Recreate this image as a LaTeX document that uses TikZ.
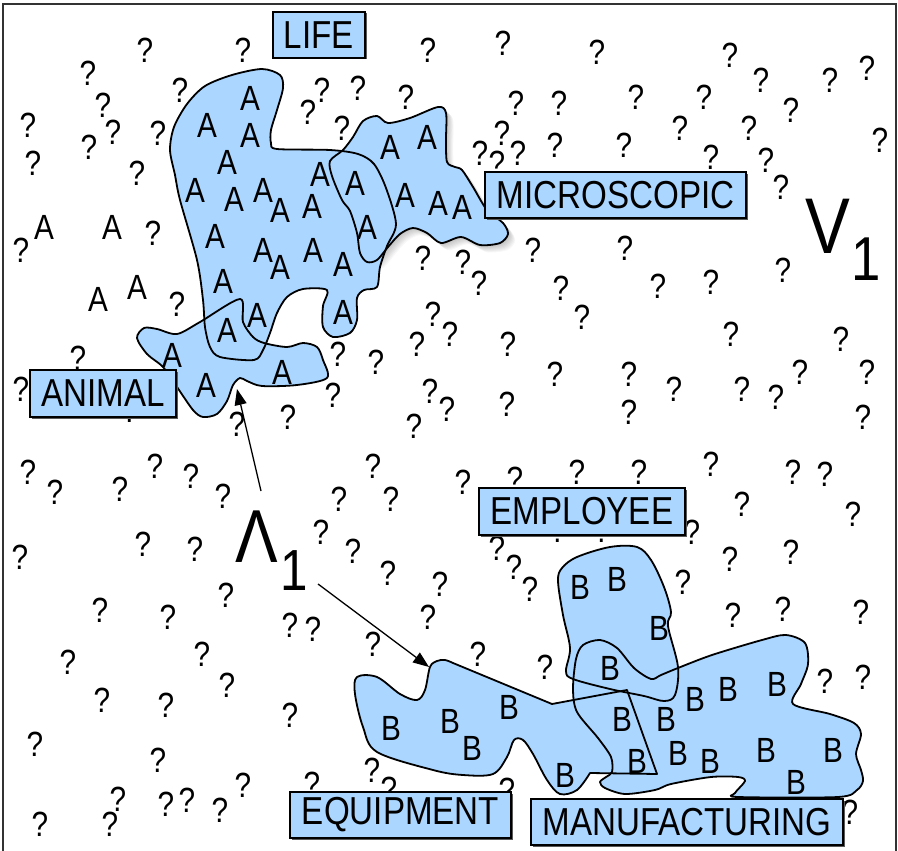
\documentclass[tikz,border=0pt]{standalone}
\usepackage{fontspec}
\setmainfont[FakeStretch=0.85]{Liberation Sans}
\usetikzlibrary{arrows.meta,shadows}
\definecolor{blobblue}{RGB}{170,214,255}
\begin{document}
\begin{tikzpicture}[x=1pt,y=-1pt,
  qm/.style={inner sep=0pt,font=\fontsize{35}{35}\selectfont},
  ltr/.style={inner sep=0pt,font=\fontsize{35}{35}\selectfont},
  blobline/.style={draw=black,line width=1.8pt,line join=round},
  lbl/.style={draw=black,line width=1.3pt,fill=blobblue,inner sep=0pt,
    font=\fontsize{39}{39}\selectfont,
    drop shadow={shadow xshift=1.5pt,shadow yshift=-1.5pt,fill=black!65,opacity=1}},
  arr/.style={line width=1.3pt,-{Triangle[length=16pt,width=12pt]}}
]
\useasboundingbox (0,0) rectangle (898,851);
\fill[white] (0,0) rectangle (898,851);

% question marks
\foreach \x/\y [count=\i] in {145/50, 243/50, 88/73, 180/90, 103/105, 28/125, 113/132, 158/133, 89/147, 33/163, 137/173, 153/233, 21/250,
428/50, 503/43, 597/52, 322/90, 358/88, 406/97, 308/112, 342/128, 516/103, 559/103, 502/133, 480/153, 518/153, 555/145, 497/163, 423/258, 463/262, 479/283, 533/250, 561/288,
730/55, 761/80, 830/80, 867/68, 636/97, 704/97, 791/110, 680/128, 749/128, 880/140, 624/145, 711/157, 766/160, 781/187, 685/207, 733/207, 625/248, 783/270, 658/286, 711/282, 731/334, 841/339, 629/374, 674/389, 742/389, 776/397, 800/372, 867/372, 629/412, 863/417,
177/304, 78/358, 21/389, 130/410, 237/424, 288/417, 28/472, 55/492, 120/489, 155/466, 191/476, 223/496, 20/557, 143/544, 195/549,
433/314, 582/317, 450/334, 417/344, 338/354, 376/362, 508/344, 555/374, 333/395, 430/391, 447/409, 507/404, 414/426, 373/466, 463/482, 515/479, 577/472, 339/499, 391/499, 321/532, 353/551, 497/548, 514/567, 530/589, 558/530, 602/530, 388/573, 440/584,
711/464, 639/472, 793/472, 825/474, 742/504, 853/514, 692/532, 730/559, 791/552,
100/610, 168/617, 226/595, 290/625, 313/629, 68/662, 202/654, 227/685, 102/700, 166/705, 290/715, 35/744, 158/760, 118/799, 110/824, 40/824, 166/804, 187/800, 220/810, 243/785,
428/617, 373/644, 478/654, 545/667, 312/784, 372/770, 389/789, 507/790,
683/582, 733/615, 783/609, 861/612, 825/681, 863/677, 850/812}
  \node[qm] (q\i) at (\x,\y) {?};

% blob paths
\def\pLife{plot[smooth cycle,tension=0.5] coordinates {(232,75) (262,69) (280,75) (283,88) (277,110) (271,130) (271,143) (277,149) (330,150) (358,154) (374,164) (386,188) (396,224) (387,246) (380,267) (377,287) (364,290) (357,298) (357,320) (350,333) (333,337) (323,327) (323,306) (327,290) (303,289) (287,297) (277,313) (270,333) (263,350) (254,360) (220,357) (210,347) (205,327) (203,300) (197,260) (180,200) (175,175) (170,150) (174,127) (187,104) (205,86)}}
\def\pMicro{plot[smooth cycle,tension=0.5] coordinates {(343,150) (353,137) (363,121) (377,116) (388,123) (410,118) (438,107) (446,113) (446,140) (447,162) (455,167) (462,170) (473,187) (487,210) (503,223) (508,234) (500,243) (480,245) (461,237) (441,243) (427,233) (413,228) (400,234) (388,247) (377,260) (367,262) (360,253) (357,233) (350,211) (342,200) (332,176) (330,161)}}
\def\pAnimal{plot[smooth cycle,tension=0.5] coordinates {(137,338) (144,328) (157,329) (177,334) (200,322) (240,299) (243,322) (253,337) (264,343) (287,347) (303,343) (317,347) (323,360) (327,378) (297,385) (262,386) (247,381) (240,378) (233,385) (227,401) (217,414) (203,417) (193,410) (177,387) (163,367) (147,354)}}
\def\pEmp{plot[smooth cycle,tension=0.55] coordinates {(558,581) (562,568) (577,557) (610,547) (637,547) (651,560) (664,587) (671,612) (668,626) (678,667) (675,695) (664,701) (644,696) (610,689) (573,679) (566,671) (570,648) (563,615)}}
\def\pManu{plot[smooth cycle,tension=0.5] coordinates {(583,645) (600,640) (617,648) (634,668) (651,679) (661,675) (678,668) (712,655) (762,640) (786,635) (805,643) (808,664) (801,684) (793,704) (830,714) (854,723) (861,734) (856,754) (861,770) (863,781) (857,790) (838,797) (738,797) (735,793) (745,781) (738,777) (711,777) (671,784) (655,790) (625,794) (605,788) (600,782) (606,777) (612,772) (611,757) (598,738) (577,712) (573,689) (576,659)}}
\def\pEquip{(453,663) -- (552,704) -- (627,690) -- (657,774) -- (590,773) -- plot[smooth,tension=0.55] coordinates {(590,773) (577,790) (560,794) (547,780) (533,754) (523,740) (514,740) (507,757) (493,774) (463,775) (433,770) (377,752) (363,727) (355,694) (357,677) (377,677) (400,694) (417,700) (425,690) (430,667) (437,661) (445,660) (453,663)} -- cycle}

% soft shadow of the microscopic region
\foreach \s in {1,...,8}
  \fill[black,opacity=0.03,shift={(\s*0.9,\s*0.9)}] \pMicro;

% fills
\fill[blobblue] \pLife;
\fill[blobblue] \pMicro;
\fill[blobblue] \pAnimal;
\fill[blobblue] \pEmp;
\fill[blobblue] \pManu;
\fill[blobblue] \pEquip;
% outlines
\path[blobline] \pLife;
\path[blobline] \pMicro;
\path[blobline] \pAnimal;
\path[blobline] \pEmp;
\path[blobline] \pManu;
\path[blobline] \pEquip;

% A letters
\foreach \x/\y [count=\i] in {44/227, 112/227, 98/299, 137/287,
250/98, 207/125, 250/135, 227/162, 195/190, 234/199, 263/190, 280/210, 320/174, 312/206, 215/236, 263/250, 280/267, 313/250, 343/264, 223/281, 257/315, 227/330, 343/312,
355/183, 367/227, 390/147, 427/137, 405/195, 438/203, 462/207,
172/355, 206/385, 282/372}
  \node[ltr] (a\i) at (\x,\y) {A};

% B letters
\foreach \x/\y [count=\i] in {391/728, 450/721, 472/748, 509/707, 565/775, 580/587, 617/579, 659/628, 610/668, 622/719, 637/761, 666/719, 695/699, 728/689, 777/684, 678/753, 710/761, 766/750, 833/750, 796/782}
  \node[ltr] (b\i) at (\x,\y) {B};

% labels
\node[lbl,minimum width=92pt,minimum height=46pt] (life) at (319,35) {LIFE};
\node[lbl,minimum width=261pt,minimum height=46pt] (micro) at (615.5,195) {MICROSCOPIC};
\node[lbl,minimum width=146pt,minimum height=47pt] (animal) at (103,393.5) {ANIMAL};
\node[lbl,minimum width=206pt,minimum height=47pt] (employee) at (582,511.5) {EMPLOYEE};
\node[lbl,minimum width=221pt,minimum height=46pt] (equipment) at (400.5,815) {EQUIPMENT};
\node[lbl,minimum width=312pt,minimum height=46pt] (manufacturing) at (687,822) {MANUFACTURING};

% V1 and Lambda1
\node[inner sep=0pt,anchor=base west,font=\fontsize{79}{79}\selectfont] (vee) at (805,253) {V};
\node[inner sep=0pt,anchor=base west,font=\fontsize{62}{62}\selectfont] (veesub) at (851,280) {1};
\node[inner sep=0pt,anchor=base west,font=\fontsize{75}{75}\selectfont] (lam) at (235,562) {Λ};
\node[inner sep=0pt,anchor=base west,font=\fontsize{58}{58}\selectfont] (lamsub) at (280,590) {1};

% arrows
\coordinate (lamtail1) at (261,491);
\coordinate (notch) at (237,389);
\coordinate (lamtail2) at (318,584);
\coordinate (eqtip) at (429,667);
\draw[arr] (lamtail1) -- (notch);
\draw[arr] (lamtail2) -- (eqtip);

% frame
\draw[line width=1.6pt,black!80] (3,860) -- (3,4) -- (896,4) -- (896,860);
\end{tikzpicture}
\end{document}
